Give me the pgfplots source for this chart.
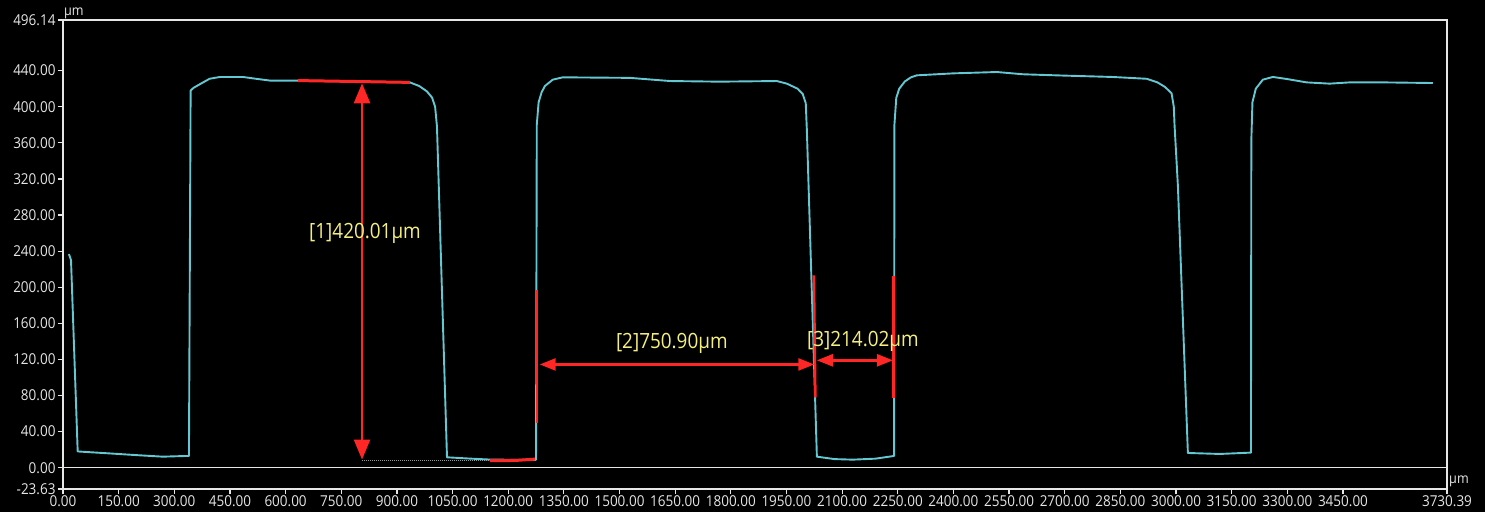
\documentclass[border=0pt]{standalone}
\usepackage{pgfplots}
\pgfplotsset{compat=1.18}
\usetikzlibrary{arrows.meta}
\usepackage{fontspec}
\setmainfont{Open Sans}[FakeStretch=0.9]
\definecolor{prof}{RGB}{100,200,210}
\definecolor{mred}{RGB}{255,38,38}
\definecolor{myel}{RGB}{245,240,125}
\definecolor{axc}{RGB}{230,230,230}
\begin{document}
\begin{tikzpicture}
\fill[black] (-63pt,-23pt) rectangle (1422pt,489pt);
\begin{axis}[
  at={(0,0)}, anchor=south west,
  scale only axis, width=1384pt, height=469pt,
  xmin=0, xmax=3730.39, ymin=-23.63, ymax=496.14,
  axis line style={axc, line width=1.3pt},
  xtick={0,150,300,450,600,750,900,1050,1200,1350,1500,1650,1800,1950,2100,2250,2400,2550,2700,2850,3000,3150,3300,3450,3730.39},
  xticklabels={0.00,150.00,300.00,450.00,600.00,750.00,900.00,1050.00,1200.00,1350.00,1500.00,1650.00,1800.00,1950.00,2100.00,2250.00,2400.00,2550.00,2700.00,2850.00,3000.00,3150.00,3300.00,3450.00,3730.39},
  ytick={-23.63,0,40,80,120,160,200,240,280,320,360,400,440,496.14},
  yticklabels={-23.63,0.00,40.00,80.00,120.00,160.00,200.00,240.00,280.00,320.00,360.00,400.00,440.00,496.14},
  xtick pos=bottom, ytick pos=left,
  tick align=outside, major tick length=5pt,
  tick style={axc, line width=1.2pt},
  tick label style={text=axc, font=\fontsize{15}{15}\selectfont},
  xticklabel style={yshift=2pt},
  yticklabel style={xshift=1pt},
  clip=false,
]
% zero line
\addplot[axc, line width=1.3pt] coordinates {(0,0) (3730.39,0)};
% profile
\addplot[prof, line width=1.9pt, line join=round] coordinates {
(16,236.7) (21.6,230) (39.6,18) (117.8,16) (207,13.7) (269,12.2) (333,13) (339.5,13)
(344,418) (352,421) (369,425) (395,431) (423,433) (485,433) (520,431) (558,429) (633,429) (935,427) (960,423) (981,417) (995,410) (1003,400) (1008,378) (1035,11.5)
(1100,10) (1151,9) (1272,8.5) (1275,9)
(1277,380) (1282,405) (1290,416) (1299,423) (1320,430) (1347,432.6) (1528,432) (1636,428.5) (1770,427.8) (1924,428.5) (1951,425.6) (1980,420) (1994,414) (2002,404) (2005,374) (2032,12.2)
(2080,9.5) (2129,8.9) (2190,10) (2240,13)
(2241,380) (2246,410) (2254,420) (2269,428) (2285,432.5) (2301,434.8) (2400,437) (2517,438.5) (2587,436) (2700,434.5) (2829,433) (2921,431) (2950,427) (2970,422) (2988,415) (2994,400) (2996,380) (3005,313) (3032,16.3)
(3118,15.2) (3202,16.7)
(3203,363) (3206,405) (3215,420) (3234,430) (3261,433) (3298,430.8) (3352,427) (3414,425.6) (3468,427) (3557,427) (3692,426.3)
};
% measurement 1
\addplot[mred, line width=3pt] coordinates {(633,429) (935,427)};
\addplot[gray!80, line width=1pt, densely dotted] coordinates {(806,8) (1151,8)};
\addplot[mred, line width=3pt] coordinates {(1151,7.8) (1220,8) (1272,9.5)};
\addplot[mred, line width=2.5pt, arrows={Triangle[length=20pt,width=16pt]-Triangle[length=20pt,width=16pt]}] coordinates {(806,426) (806,9)};
% measurement 2 and 3
\addplot[mred, line width=2.5pt] coordinates {(1277,197) (1277,50)};
\addplot[mred, line width=2.5pt] coordinates {(2024,213) (2028,78)};
\addplot[mred, line width=2.5pt] coordinates {(2239,212) (2239,77)};
\addplot[mred, line width=2.5pt, arrows={Triangle[length=16pt,width=12pt]-Triangle[length=16pt,width=12pt]}] coordinates {(1285,114.4) (2025,114.4)};
\addplot[mred, line width=2.5pt, arrows={Triangle[length=16pt,width=12pt]-Triangle[length=16pt,width=12pt]}] coordinates {(2032,119) (2237,119)};
\node[text=myel, font=\fontsize{21}{21}\selectfont] at (axis cs:814,260) {[1]420.01µm};
\node[text=myel, font=\fontsize{21}{21}\selectfont] at (axis cs:1641,138) {[2]750.90µm};
\node[text=myel, font=\fontsize{21}{21}\selectfont] at (axis cs:2156,140) {[3]214.02µm};
% units
\node[text=axc, font=\fontsize{14}{14}\selectfont, anchor=south west, inner sep=1pt] at (rel axis cs:0,1) {µm};
\node[text=axc, font=\fontsize{14}{14}\selectfont, anchor=south west, inner sep=2pt] at (rel axis cs:1,0) {µm};
\end{axis}
\pgfresetboundingbox
\useasboundingbox (-63pt,-23pt) rectangle (1422pt,489pt);
\end{tikzpicture}
\end{document}
